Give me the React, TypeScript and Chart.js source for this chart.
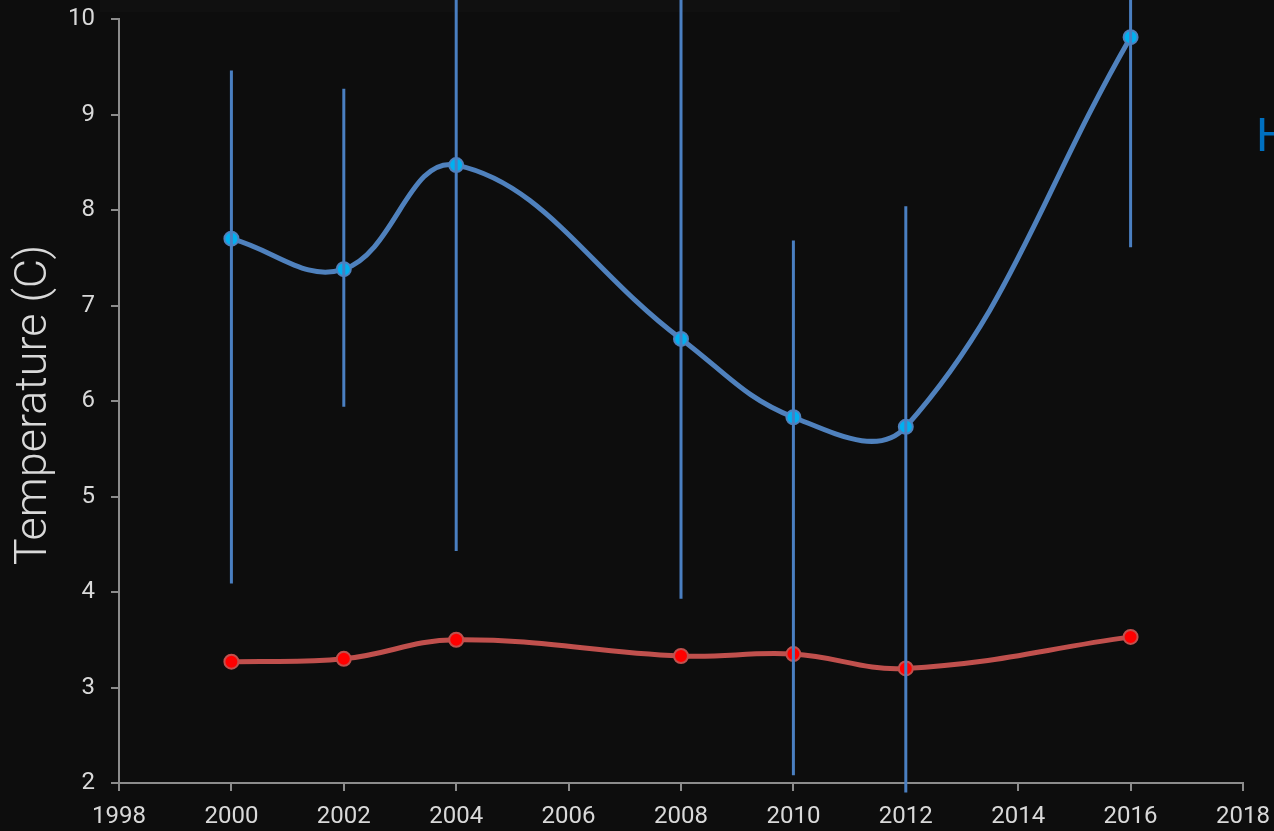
import React, { useEffect, useRef } from "react";
import { Chart, registerables } from "chart.js";

Chart.register(...registerables);

const years = [2000, 2002, 2004, 2008, 2010, 2012, 2016];
const highTemps = [7.7, 7.38, 8.47, 6.65, 5.83, 5.73, 9.81];
const highErrTop = [9.46, 9.27, 12.5, 12.0, 7.68, 8.04, 11.5];
const highErrBottom = [4.09, 5.94, 4.43, 3.93, 2.08, 1.9, 7.61];
const lowTemps = [3.27, 3.3, 3.5, 3.33, 3.35, 3.2, 3.53];
const xTicks = [1998, 2000, 2002, 2004, 2006, 2008, 2010, 2012, 2014, 2016, 2018];
const yTicks = [2, 3, 4, 5, 6, 7, 8, 9, 10];

const BG = "#0d0d0d";
const AXIS = "#8c8c8c";
const TEXT = "#d9d9d9";

export default function App() {
  const ref = useRef<HTMLCanvasElement | null>(null);

  useEffect(() => {
    document.body.style.margin = "0";
    document.body.style.background = BG;
    const canvas = ref.current;
    if (!canvas) return;

    const bgPlugin = {
      id: "bg",
      beforeDraw(chart: any) {
        const ctx = chart.ctx;
        ctx.save();
        ctx.fillStyle = BG;
        ctx.fillRect(0, 0, chart.width, chart.height);
        ctx.fillStyle = "#101010";
        ctx.fillRect(100, 0, 800, 12);
        ctx.restore();
      },
    };

    const errPlugin = {
      id: "errbars",
      afterDatasetsDraw(chart: any) {
        const ctx = chart.ctx;
        const xs = chart.scales.x;
        const ys = chart.scales.y;
        ctx.save();
        ctx.strokeStyle = "#4a7fc1";
        ctx.lineWidth = 3;
        years.forEach((yr, i) => {
          const x = xs.getPixelForValue(yr);
          ctx.beginPath();
          ctx.moveTo(x, ys.getPixelForValue(highErrTop[i]));
          ctx.lineTo(x, ys.getPixelForValue(highErrBottom[i]));
          ctx.stroke();
        });
        ctx.restore();
      },
      afterDraw(chart: any) {
        const ctx = chart.ctx;
        const ca = chart.chartArea;
        ctx.save();
        ctx.fillStyle = TEXT;
        ctx.font = "300 45px Roboto";
        ctx.textAlign = "center";
        ctx.textBaseline = "middle";
        ctx.translate(35, (ca.top + ca.bottom) / 2 + 4);
        ctx.rotate(-Math.PI / 2);
        ctx.fillText("Temperature (C)", 0, 0);
        ctx.restore();
        ctx.save();
        ctx.fillStyle = "#0070c0";
        ctx.font = "400 47px Roboto";
        ctx.textAlign = "left";
        ctx.textBaseline = "alphabetic";
        ctx.fillText("H", 1256, 151);
        ctx.restore();
      },
    };

    const zeroPad = (scale: any) => {
      scale.paddingTop = 0;
      scale.paddingBottom = 0;
      scale.paddingLeft = 0;
      scale.paddingRight = 0;
    };

    const chart = new Chart(canvas, {
      type: "line",
      data: {
        datasets: [
          {
            label: "High",
            data: years.map((x, i) => ({ x, y: highTemps[i] })),
            borderColor: "#4f81bd",
            borderWidth: 5,
            tension: 0.4,
            pointRadius: 7,
            pointBackgroundColor: "#00b0f0",
            pointBorderColor: "#4f81bd",
            pointBorderWidth: 2,
            clip: false,
          },
          {
            label: "Low",
            data: years.map((x, i) => ({ x, y: lowTemps[i] })),
            borderColor: "#c0504d",
            borderWidth: 5,
            tension: 0.4,
            pointRadius: 7,
            pointBackgroundColor: "#ff0000",
            pointBorderColor: "#c0504d",
            pointBorderWidth: 2,
            clip: false,
          },
        ],
      },
      options: {
        animation: false,
        responsive: false,
        devicePixelRatio: 1,
        layout: { padding: { left: 0, top: 19, right: 31, bottom: 0 } },
        plugins: { legend: { display: false }, tooltip: { enabled: false } },
        scales: {
          x: {
            type: "linear",
            min: 1998,
            max: 2018,
            afterBuildTicks(scale: any) {
              scale.ticks = xTicks.map((v) => ({ value: v }));
            },
            afterFit(scale: any) {
              scale.height = 48;
              zeroPad(scale);
            },
            ticks: {
              color: TEXT,
              font: { family: "Roboto", size: 24 },
              padding: 12,
              maxRotation: 0,
              autoSkip: false,
              callback: (v: any) => String(v),
            },
            grid: { drawOnChartArea: false, color: AXIS, tickLength: 8, lineWidth: 2 },
            border: { color: AXIS, width: 2 },
          },
          y: {
            type: "linear",
            min: 2,
            max: 10,
            afterBuildTicks(scale: any) {
              scale.ticks = yTicks.map((v) => ({ value: v }));
            },
            afterFit(scale: any) {
              scale.width = 119;
              zeroPad(scale);
            },
            ticks: {
              color: TEXT,
              font: { family: "Roboto", size: 24 },
              padding: 16,
              autoSkip: false,
              callback: (v: any) => String(v),
            },
            grid: { drawOnChartArea: false, color: AXIS, tickLength: 8, lineWidth: 2 },
            border: { color: AXIS, width: 2 },
          },
        },
      },
      plugins: [bgPlugin, errPlugin],
    });

    return () => chart.destroy();
  }, []);

  return (
    <div style={{ position: "fixed", left: 0, top: 0, width: 1274, height: 831, background: BG }}>
      <canvas ref={ref} width={1274} height={831} style={{ display: "block", width: 1274, height: 831 }} />
    </div>
  );
}
